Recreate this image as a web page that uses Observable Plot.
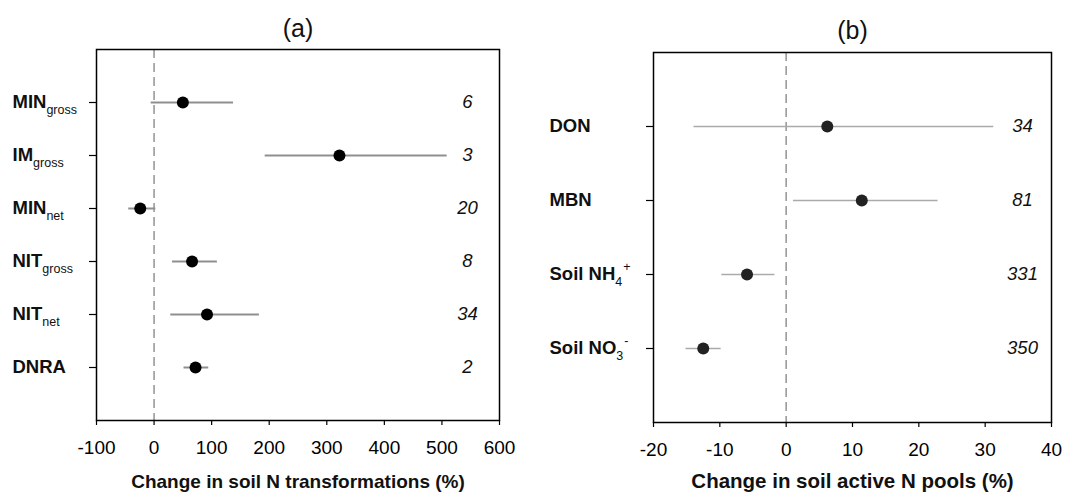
<!DOCTYPE html>
<html>
<head>
<meta charset="utf-8">
<script src="https://cdn.jsdelivr.net/npm/d3@7"></script>
<script src="https://cdn.jsdelivr.net/npm/@observablehq/plot@0.6"></script>
<style>
  html, body { margin: 0; padding: 0; background: #fff; }
  #wrap { display: flex; width: 1083px; height: 501px; }
  #wrap svg { display: block; }
</style>
</head>
<body>
<div id="wrap"></div>
<script>
// ---------- Panel (a) data ----------
const titleA = "(a)";
const axisLabelA = "Change in soil N transformations (%)";
const labelsA = ["MIN", "IM", "MIN", "NIT", "NIT", "DNRA"];
const subsA = ["gross", "gross", "net", "gross", "net", ""];
const meanA = [50, 322, -24, 66, 92, 72];
const lowA = [-5, 193, -44, 32, 29, 52];
const highA = [138, 509, 3, 110, 183, 95];
const countsA = [6, 3, 20, 8, 34, 2];
const ticksA = [-100, 0, 100, 200, 300, 400, 500, 600];

// ---------- Panel (b) data ----------
const titleB = "(b)";
const axisLabelB = "Change in soil active N pools (%)";
const labelsB = ["DON", "MBN", "Soil NH", "Soil NO"];
const subsB = ["", "", "4", "3"];
const supsB = ["", "", "+", "-"];
const meanB = [6.2, 11.4, -5.9, -12.5];
const lowB = [-13.9, 1.1, -9.7, -15.1];
const highB = [31.3, 22.9, -1.7, -9.8];
const countsB = [34, 81, 331, 350];
const ticksB = [-20, -10, 0, 10, 20, 30, 40];

const FONT = "Arial, 'Liberation Sans', Helvetica, sans-serif";
const LABEL_FILL = "#101010";

function panel(cfg) {
  const n = cfg.labels.length;
  const rows = cfg.labels.map((l, i) => ({
    row: i + 1, label: l, sub: cfg.subs[i] || "", sup: (cfg.sups && cfg.sups[i]) || "",
    mean: cfg.mean[i], low: cfg.low[i], high: cfg.high[i], count: cfg.counts[i]
  }));
  const svg = Plot.plot({
    width: cfg.width,
    height: 501,
    marginLeft: cfg.ml,
    marginRight: cfg.mr,
    marginTop: cfg.mt,
    marginBottom: cfg.mb,
    style: { fontFamily: FONT, fontSize: "19px", background: "#fff", color: "#000" },
    x: { domain: cfg.xdomain, axis: null },
    y: { domain: [0, n + 1], reverse: true, axis: null },
    marks: [
      Plot.ruleX([0], { stroke: "#9a9a9a", strokeWidth: 1.6, strokeDasharray: "9,5" }),
      Plot.ruleY(rows, { y: "row", x1: "low", x2: "high", stroke: cfg.barColor, strokeWidth: cfg.barWidth }),
      Plot.dot(rows, { y: "row", x: "mean", r: 6, fill: cfg.dotColor, stroke: null }),
      Plot.text(rows, { y: "row", frameAnchor: "right", dx: cfg.countDx, text: d => String(d.count),
        fontStyle: "italic", fontSize: 18.5, textAnchor: "middle", lineAnchor: "middle", fill: "#111" }),
      Plot.text(rows, { y: "row", frameAnchor: "left", dx: cfg.labelDx, text: "label",
        fontWeight: "bold", fontSize: 18.5, textAnchor: "start", lineAnchor: "middle", fill: LABEL_FILL }),
      Plot.axisY({ ticks: rows.map(d => d.row), tickSize: 7, tickFormat: () => "", label: null,
        stroke: "#000", strokeWidth: 1.2 }),
      Plot.axisX({ ticks: cfg.ticks, tickSize: 5, tickPadding: 15, tickFormat: d => String(d),
        fontSize: 19, label: null, stroke: "#000", strokeWidth: 1.2 }),
      Plot.frame({ stroke: "#000", strokeWidth: 1.5 }),
      Plot.text([cfg.title], { frameAnchor: "top", dy: cfg.titleDy, text: d => d, fontSize: cfg.titleSize,
        lineAnchor: "middle", fill: "#111" }),
      Plot.text([cfg.axisLabel], { frameAnchor: "bottom", dy: cfg.labelDy, text: d => d, fontSize: cfg.axisLabelSize,
        fontWeight: "bold", lineAnchor: "middle", fill: "#111" })
    ]
  });
  // add subscripts / superscripts to the row labels
  const texts = Array.from(svg.querySelectorAll("text")).filter(t => {
    const g = t.closest("g");
    return (g && g.getAttribute("fill") === LABEL_FILL) || t.getAttribute("fill") === LABEL_FILL;
  });
  texts.forEach((node, i) => {
    const d = rows[i];
    if (!d) return;
    const t = d3.select(node);
    t.text(null);
    t.append("tspan").text(d.label);
    if (d.sub) {
      t.append("tspan").attr("dy", 6).attr("font-size", 12.5).attr("font-weight", "normal").text(d.sub);
    }
    if (d.sup) {
      t.append("tspan").attr("dy", -15).attr("dx", 1).attr("font-size", 12.5).attr("font-weight", "normal").text(d.sup);
    }
  });
  return svg;
}

const wrap = document.getElementById("wrap");
wrap.appendChild(panel({
  width: 540, ml: 96, mr: 41, mt: 49, mb: 81,
  xdomain: [-100, 600], ticks: ticksA,
  labels: labelsA, subs: subsA, sups: null,
  mean: meanA, low: lowA, high: highA, counts: countsA,
  barColor: "#8f8f8f", barWidth: 2, dotColor: "#000",
  countDx: -32, labelDx: -84, title: titleA, titleDy: -21, titleSize: 25,
  axisLabel: axisLabelA, axisLabelSize: 19, labelDy: 61
}));
wrap.appendChild(panel({
  width: 543, ml: 113, mr: 32, mt: 52, mb: 79,
  xdomain: [-20, 40], ticks: ticksB,
  labels: labelsB, subs: subsB, sups: supsB,
  mean: meanB, low: lowB, high: highB, counts: countsB,
  barColor: "#aaaaaa", barWidth: 1.5, dotColor: "#222",
  countDx: -29, labelDx: -104, title: titleB, titleDy: -22, titleSize: 25,
  axisLabel: axisLabelB, axisLabelSize: 20.5, labelDy: 59
}));
</script>
</body>
</html>
